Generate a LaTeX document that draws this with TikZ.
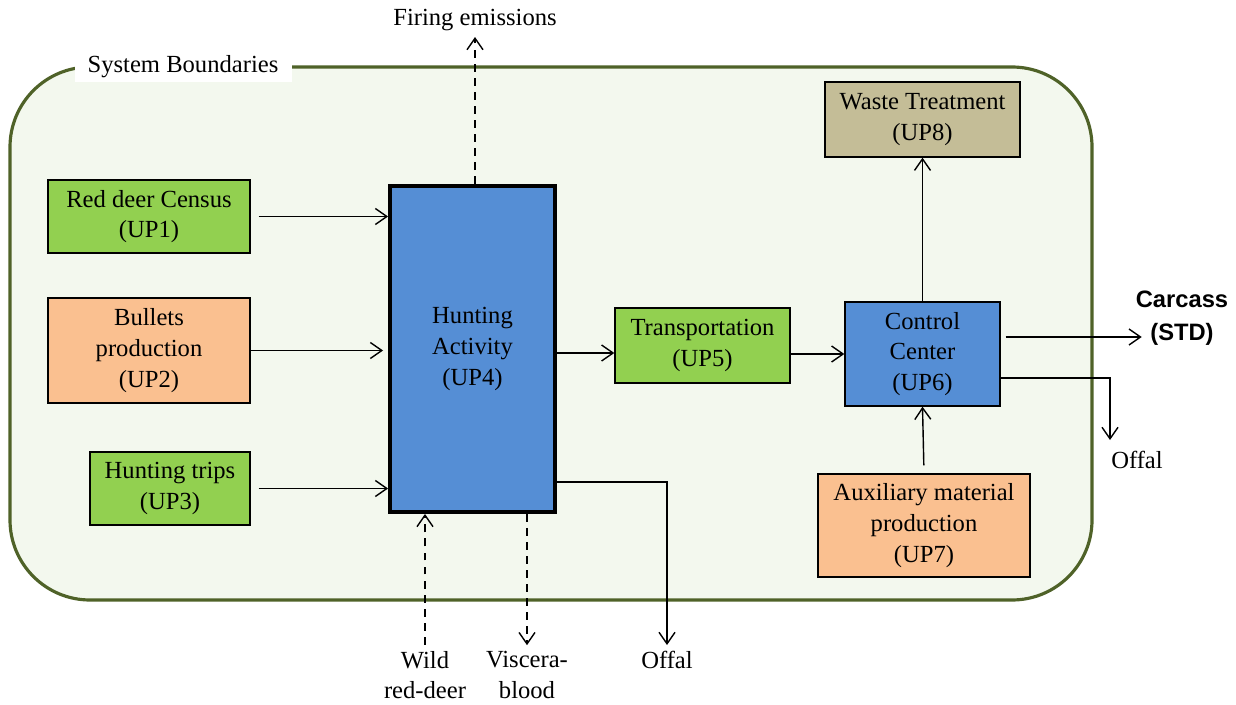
\documentclass[tikz,border=0pt]{standalone}
\usepackage{fontspec}
\setmainfont{Liberation Serif}
\newfontfamily\carcassfont{Liberation Sans}
\usetikzlibrary{arrows.meta}
\definecolor{upgreen}{HTML}{92D050}
\definecolor{uporange}{HTML}{FAC090}
\definecolor{upblue}{HTML}{558ED5}
\definecolor{uptan}{HTML}{C4BD97}
\definecolor{bordergreen}{HTML}{4F6228}
\definecolor{insidegreen}{HTML}{F3F8EE}
\tikzset{
    unit/.style={draw,line width=0.8pt,align=center,inner sep=2pt,font=\fontsize{14}{17.5}\selectfont},
    outtext/.style={align=center,font=\fontsize{14}{17.5}\selectfont},
    flow/.style={->,line width=0.8pt},
    emission/.style={->,line width=0.8pt,dash pattern=on 4.5pt off 3.5pt}
}

\begin{document}
\begin{tikzpicture}[>={Straight Barb[length=2.3mm,width=3.2mm]}]
                            \useasboundingbox (0,0) rectangle (24.72,14.08);
                            \draw[bordergreen,fill=insidegreen,line width=1.8pt,rounded corners=1.6cm] (0.2,2.08) rectangle (21.84,12.74);
                            \node[fill=white,inner sep=0pt,minimum width=4.34cm,minimum height=0.6cm,font=\fontsize{14}{17.5}\selectfont] (sysbound) at (3.66,12.74) {System Boundaries};
                            \node[unit,fill=upgreen,minimum width=4.04cm,minimum height=1.46cm] (up1) at (2.98,9.75) {Red deer Census\\(UP1)};
                            \node[unit,fill=uporange,minimum width=4.04cm,minimum height=2.1cm] (up2) at (2.98,7.07) {Bullets\\production\\(UP2)};
                            \node[unit,fill=upgreen,minimum width=3.2cm,minimum height=1.46cm] (up3) at (3.4,4.31) {Hunting trips\\(UP3)};
                            \node[unit,fill=upblue,line width=2.2pt,minimum width=3.3cm,minimum height=6.52cm] (up4) at (9.45,7.1) {Hunting\\Activity\\(UP4)};
                            \node[unit,fill=upgreen,minimum width=3.5cm,minimum height=1.5cm] (up5) at (14.05,7.17) {Transportation\\(UP5)};
                            \node[unit,fill=upblue,minimum width=3.1cm,minimum height=2.08cm] (up6) at (18.45,7.0) {Control\\Center\\(UP6)};
                            \node[unit,fill=uptan,minimum width=3.9cm,minimum height=1.5cm] (up8) at (18.45,11.69) {Waste Treatment\\(UP8)};
                            \node[unit,fill=uporange,minimum width=4.24cm,minimum height=2.06cm] (up7) at (18.48,3.57) {Auxiliary material\\production\\(UP7)};
                            \node[outtext] (fire) at (9.5,13.68) {Firing emissions};
                            \node[outtext] (wild) at (8.5,0.58) {Wild\\red-deer};
                            \node[outtext] (viscera) at (10.54,0.58) {Viscera-\\blood};
                            \node[outtext] (offal1) at (13.34,0.88) {Offal};
                            \node[outtext] (offal2) at (22.74,4.88) {Offal};
                            \node[align=center,inner sep=1pt,font=\carcassfont\bfseries\fontsize{13.5}{19}\selectfont] (carcass) at (23.64,7.72) {Carcass\\(STD)};
                            \coordinate (offalturn) at (22.2,5.28);
                            \draw[flow,shorten <=0.16cm] (up1.east) -- (up1.east -| up4.west);
                            \draw[flow,shorten >=0.1cm] (up2.east) -- (up2.east -| up4.west);
                            \draw[flow,shorten <=0.16cm] (up3.east) -- (up3.east -| up4.west);
                            \draw[flow] ([yshift=-1.5mm]up4.east |- up5.west) -- ([yshift=-1.5mm]up5.west);
                            \draw[flow] (up5.east |- up6.west) -- (up6.west);
                            \draw[flow] (up6.north) -- (up8.south);
                            \draw[flow,shorten <=0.16cm] (up7.north) -- (up6.south);
                            \draw[flow,shorten <=0.1cm,shorten >=-0.16cm] ([yshift=3.4mm]up6.east) -- ([yshift=3.4mm]up6.east -| carcass.west);
                            \draw[flow] ([yshift=-4.8mm]up6.east) -| (offalturn);
                            \draw[flow] ([yshift=-26.6mm]up4.east) -| (offal1.north);
                            \draw[emission] (up4.north -| fire.south) -- (fire.south);
                            \draw[emission] (wild.north) -- (wild.north |- up4.south);
                            \draw[emission] (viscera.north |- up4.south) -- (viscera.north);
                        \end{tikzpicture}
\end{document}
